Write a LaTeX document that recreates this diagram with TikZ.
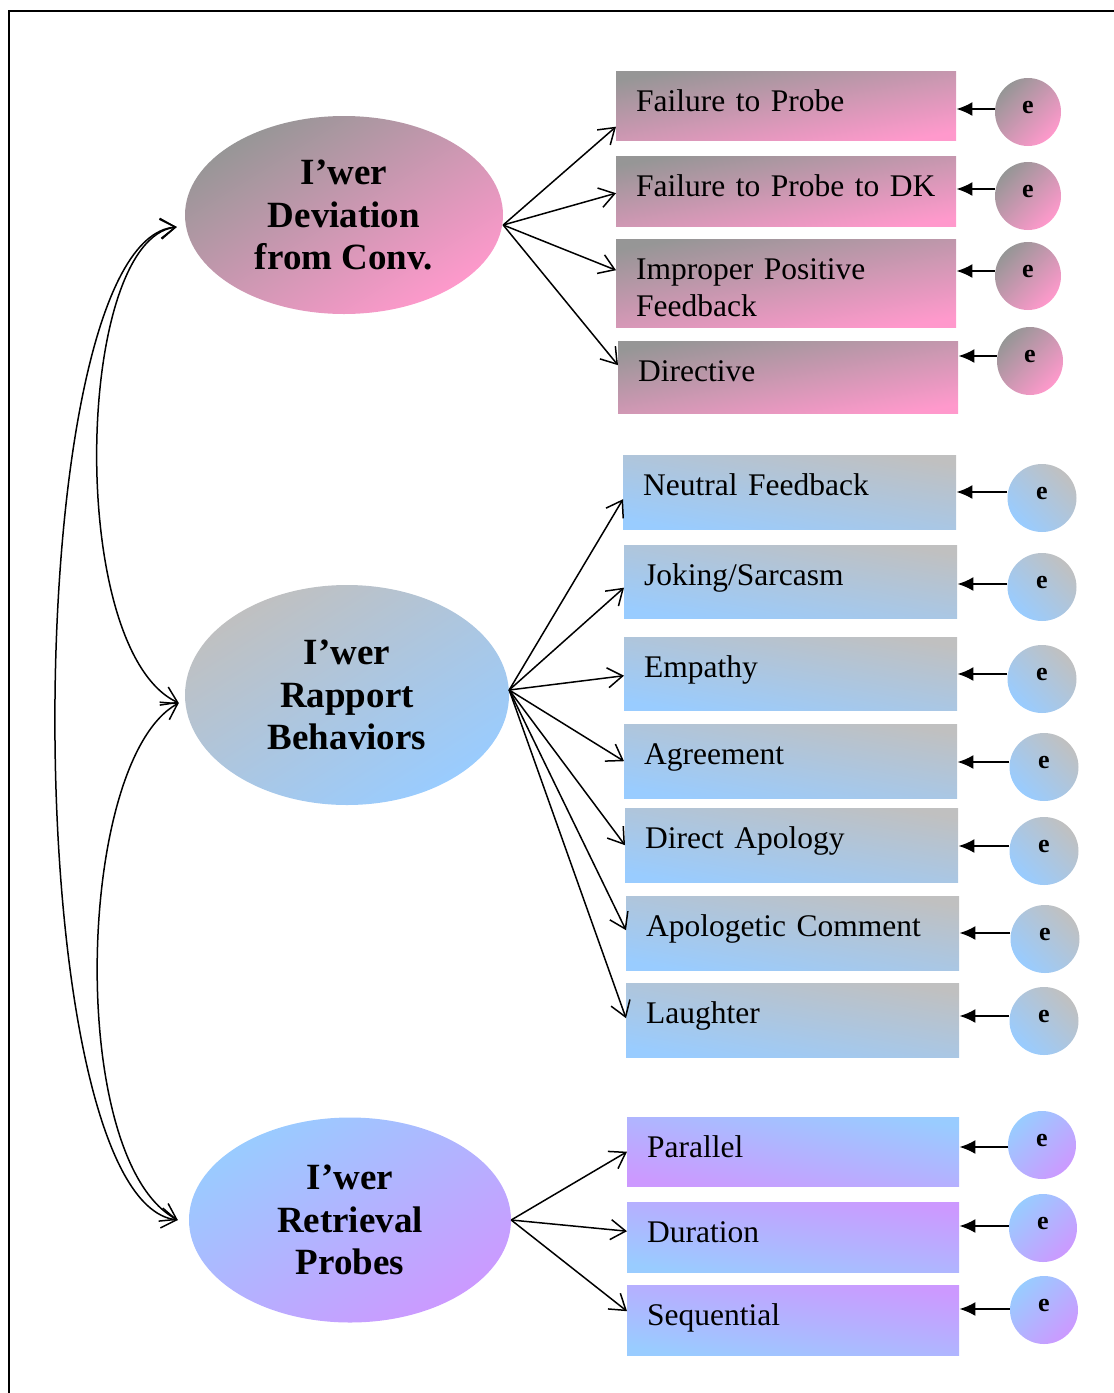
\documentclass[tikz,border=0pt]{standalone}
\usepackage{fontspec}
\setmainfont{Liberation Serif}
\usetikzlibrary{arrows.meta,shapes.geometric}
\definecolor{pgray}{HTML}{969696}
\definecolor{ppink}{HTML}{FF99CC}
\definecolor{lgray}{HTML}{C0C0C0}
\definecolor{lblue}{HTML}{99CCFF}
\definecolor{lpurp}{HTML}{CC99FF}
\begin{document}
\begin{tikzpicture}[x=1pt,y=-1pt,
  bigell/.style={ellipse, inner sep=0pt, align=center,
    font=\bfseries\fontsize{37}{42.5}\selectfont},
  itembox/.style={rectangle, anchor=north west, inner xsep=20pt, inner ysep=0pt,
    align=left, text width=#1, text height=40pt,
    font=\fontsize{31.5}{37}\selectfont},
  enode/.style={ellipse, inner sep=0pt, minimum width=68pt, minimum height=68pt,
    font=\bfseries\fontsize{26}{26}\selectfont, text height=12pt, text depth=10pt},
  pinkfill/.style={top color=pgray, bottom color=ppink, shading angle=#1},
  blueA/.style={top color=lgray, bottom color=lblue, shading angle=#1},
  purpA/.style={top color=lblue, bottom color=lpurp, shading angle=#1},
  purpB/.style={top color=lpurp, bottom color=lblue, shading angle=#1},
  marr/.style={-{Straight Barb[length=15pt,width=20pt]}, line width=1.5pt},
  carr/.style={{Straight Barb[length=15pt,width=20pt]}-{Straight Barb[length=15pt,width=20pt]}, line width=1.5pt},
  sarr/.style={-{Latex[length=16pt,width=14pt]}, line width=2pt}
]
\useasboundingbox (0,0) rectangle (1114,1393);
\draw[line width=2pt] (9,1393) -- (9,11) -- (1114,11);

% latent ellipses
\node[bigell, minimum width=318pt, minimum height=198pt, pinkfill=32] (E1) at (344,215) {I’wer\\Deviation\\from Conv.};
\node[bigell, minimum width=324pt, minimum height=220pt, blueA=32] (E2) at (347,695) {I’wer\\Rapport\\Behaviors};
\node[bigell, minimum width=322pt, minimum height=205pt, purpA=32] (E3) at (350,1220) {I’wer\\Retrieval\\Probes};

% pink boxes
\node[itembox=300pt, text depth=29pt, pinkfill=10] (b1) at (616,71) {\mbox{Failure to Probe}};
\node[itembox=300pt, text depth=30pt, pinkfill=10] (b2) at (616,156) {\mbox{Failure to Probe to DK}};
\node[itembox=300pt, text depth=48pt, pinkfill=10] (b3) at (616,239) {Improper Positive\\Feedback};
\node[itembox=300pt, text depth=32pt, pinkfill=10] (b4) at (618,341) {Directive};

% rapport boxes
\node[itembox=293pt, text depth=34pt, blueA=-10] (r1) at (623,455) {\mbox{Neutral Feedback}};
\node[itembox=293pt, text depth=33pt, blueA=-10] (r2) at (624,545) {Joking/Sarcasm};
\node[itembox=293pt, text depth=33pt, blueA=-10] (r3) at (624,637) {Empathy};
\node[itembox=293pt, text depth=34pt, blueA=-10] (r4) at (624,724) {Agreement};
\node[itembox=293pt, text depth=34pt, blueA=-10] (r5) at (625,808) {\mbox{Direct Apology}};
\node[itembox=293pt, text depth=34pt, blueA=-10] (r6) at (626,896) {\mbox{Apologetic Comment}};
\node[itembox=293pt, text depth=34pt, blueA=-10] (r7) at (626,983) {Laughter};

% retrieval boxes
\node[itembox=292pt, text depth=29pt, purpA=-10] (p1) at (627,1117) {Parallel};
\node[itembox=292pt, text depth=30pt, purpB=-10] (p2) at (627,1202) {Duration};
\node[itembox=292pt, text depth=30pt, purpB=-10] (p3) at (627,1285) {Sequential};

% error terms
\node[enode, minimum width=66pt, pinkfill=45] (ep1) at (1028,112) {e};
\node[enode, minimum width=66pt, pinkfill=45] (ep2) at (1028,196) {e};
\node[enode, minimum width=66pt, pinkfill=45] (ep3) at (1028,276) {e};
\node[enode, minimum width=66pt, pinkfill=45] (ep4) at (1030,361) {e};

\node[enode, minimum width=69pt, blueA=-45] (er1) at (1042,498) {e};
\node[enode, minimum width=69pt, blueA=-45] (er2) at (1042,587) {e};
\node[enode, minimum width=69pt, blueA=-45] (er3) at (1042,679) {e};
\node[enode, minimum width=69pt, blueA=-45] (er4) at (1044,767) {e};
\node[enode, minimum width=69pt, blueA=-45] (er5) at (1044,851) {e};
\node[enode, minimum width=69pt, blueA=-45] (er6) at (1045,939) {e};
\node[enode, minimum width=69pt, blueA=-45] (er7) at (1044,1021) {e};

\node[enode, purpA=45] (eq1) at (1042,1145) {e};
\node[enode, purpA=45] (eq2) at (1043,1228) {e};
\node[enode, purpA=45] (eq3) at (1044,1310) {e};

% error arrows
\draw[sarr] ([yshift=3pt]ep1.west) -- ([yshift=3pt]ep1.west -| b1.east);
\draw[sarr] ([yshift=7pt]ep2.west) -- ([yshift=7pt]ep2.west -| b2.east);
\draw[sarr] ([yshift=5pt]ep3.west) -- ([yshift=5pt]ep3.west -| b3.east);
\draw[sarr] ([yshift=5pt]ep4.west) -- ([yshift=5pt]ep4.west -| b4.east);

\draw[sarr] ([yshift=6pt]er1.west) -- ([yshift=6pt]er1.west -| r1.east);
\draw[sarr] ([yshift=3pt]er2.west) -- ([yshift=3pt]er2.west -| r2.east);
\draw[sarr] ([yshift=5pt]er3.west) -- ([yshift=5pt]er3.west -| r3.east);
\draw[sarr] ([yshift=5pt]er4.west) -- ([yshift=5pt]er4.west -| r4.east);
\draw[sarr] ([yshift=5pt]er5.west) -- ([yshift=5pt]er5.west -| r5.east);
\draw[sarr] ([yshift=6pt]er6.west) -- ([yshift=6pt]er6.west -| r6.east);
\draw[sarr] ([yshift=5pt]er7.west) -- ([yshift=5pt]er7.west -| r7.east);

\draw[sarr] ([yshift=-2pt]eq1.west) -- ([yshift=-2pt]eq1.west -| p1.east);
\draw[sarr] ([yshift=2pt]eq2.west) -- ([yshift=2pt]eq2.west -| p2.east);
\draw[sarr] ([yshift=1pt]eq3.west) -- ([yshift=1pt]eq3.west -| p3.east);

% loadings
\draw[marr] ([yshift=-10pt]E1.east) -- ([yshift=-21pt]b1.west);
\draw[marr] ([yshift=-10pt]E1.east) -- ([yshift=-2pt]b2.west);
\draw[marr] ([yshift=-10pt]E1.east) -- ([yshift=13pt]b3.west);
\draw[marr] ([yshift=-10pt]E1.east) -- ([yshift=12pt]b4.west);

\draw[marr] ([yshift=5pt]E2.east) -- ([yshift=-7pt]r1.west);
\draw[marr] ([yshift=5pt]E2.east) -- ([yshift=-6pt]r2.west);
\draw[marr] ([yshift=5pt]E2.east) -- ([yshift=-2pt]r3.west);
\draw[marr] ([yshift=5pt]E2.east) -- (r4.west);
\draw[marr] ([yshift=5pt]E2.east) -- (r5.west);
\draw[marr] ([yshift=5pt]E2.east) -- ([yshift=3pt]r6.west);
\draw[marr] ([yshift=5pt]E2.east) -- ([yshift=2pt]r7.west);

\draw[marr] (E3.east) -- (p1.west);
\draw[marr] (E3.east) -- ([yshift=6pt]p2.west);
\draw[marr] (E3.east) -- ([yshift=9pt]p3.west);

% correlations
\draw[carr] ([xshift=-8pt,yshift=-12pt]E1.west) .. controls +(-102,13) and +(-113,-53) .. ([xshift=-6pt,yshift=-8pt]E2.west);
\draw[carr] ([xshift=-6pt,yshift=-8pt]E2.west) .. controls +(-103,57) and +(-112,-60) .. ([xshift=-11pt]E3.west);
\draw[carr] ([xshift=-8pt,yshift=-12pt]E1.west) .. controls +(-162,13) and +(-163,-20) .. ([xshift=-11pt]E3.west);
\end{tikzpicture}
\end{document}
